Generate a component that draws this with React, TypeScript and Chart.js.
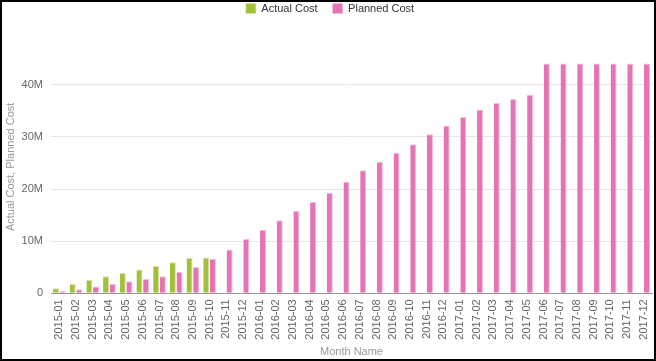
import React, { useEffect, useRef } from "react";
import { Chart, registerables } from "chart.js";

Chart.register(...registerables);

const categories = [
  "2015-01", "2015-02", "2015-03", "2015-04", "2015-05", "2015-06",
  "2015-07", "2015-08", "2015-09", "2015-10", "2015-11", "2015-12",
  "2016-01", "2016-02", "2016-03", "2016-04", "2016-05", "2016-06",
  "2016-07", "2016-08", "2016-09", "2016-10", "2016-11", "2016-12",
  "2017-01", "2017-02", "2017-03", "2017-04", "2017-05", "2017-06",
  "2017-07", "2017-08", "2017-09", "2017-10", "2017-11", "2017-12",
];

const actualCost = [
  950000, 1800000, 2550000, 3250000, 3900000, 4550000,
  5250000, 5950000, 6750000, 6850000, null, null,
  null, null, null, null, null, null,
  null, null, null, null, null, null,
  null, null, null, null, null, null,
  null, null, null, null, null, null,
];

const plannedCost = [
  450000, 800000, 1300000, 1800000, 2300000, 2750000,
  3250000, 4100000, 5050000, 6650000, 8400000, 10400000,
  12200000, 14000000, 15800000, 17500000, 19300000, 21400000,
  23600000, 25250000, 26900000, 28600000, 30500000, 32200000,
  33800000, 35250000, 36500000, 37300000, 38100000, 44100000,
  44100000, 44100000, 44100000, 44100000, 44100000, 44100000,
];

const yTickValues = [0, 10000000, 20000000, 30000000, 40000000];

const FONT = "'Liberation Sans', Arial, sans-serif";

const legendSpacer = {
  id: "legendSpacer",
  beforeInit(chart: any) {
    const legend = chart.legend;
    if (!legend) return;
    const origFit = legend.fit;
    legend.fit = function () {
      origFit.call(this);
      this.height += 16.5;
    };
  },
};

export default function App() {
  const ref = useRef<HTMLCanvasElement | null>(null);

  useEffect(() => {
    document.body.style.margin = "0";
    const ctx = ref.current;
    if (!ctx) return;
    const chart = new Chart(ctx, {
      type: "bar",
      data: {
        labels: categories,
        datasets: [
          {
            label: "Actual Cost",
            data: actualCost,
            backgroundColor: "#a3c03b",
            borderColor: "#d2e2a2",
            borderWidth: { top: 1, right: 1, left: 0, bottom: 0 },
            borderSkipped: "bottom",
          },
          {
            label: "Planned Cost",
            data: plannedCost,
            backgroundColor: "#e474b4",
            borderColor: "#f4bcdc",
            borderWidth: { top: 1, right: 1, left: 0, bottom: 0 },
            borderSkipped: "bottom",
          },
        ],
      },
      plugins: [legendSpacer],
      options: {
        animation: false,
        responsive: true,
        maintainAspectRatio: false,
        layout: { padding: { top: -14, left: 6, right: 2, bottom: 0 } },
        datasets: {
          bar: { categoryPercentage: 0.8, barPercentage: 0.9 },
        },
        plugins: {
          legend: {
            position: "top",
            labels: {
              boxWidth: 10,
              boxHeight: 10,
              padding: 15,
              color: "#333333",
              font: { family: FONT, size: 11 },
            },
          },
          tooltip: { enabled: false },
        },
        scales: {
          x: {
            grid: { display: false, drawTicks: false },
            border: { display: true, color: "#999999", width: 1 },
            afterFit: (axis: any) => {
              axis.paddingLeft = 0;
              axis.paddingRight = 0;
              axis.height = 65.7;
            },
            ticks: {
              color: "#666666",
              font: { family: FONT, size: 11 },
              maxRotation: 90,
              minRotation: 90,
              autoSkip: false,
              padding: 6,
            },
            title: {
              display: true,
              text: "Month Name",
              color: "#999999",
              font: { family: FONT, size: 11 },
              padding: { top: 6, bottom: 0 },
            },
          },
          y: {
            min: 0,
            max: 48500000,
            grid: { color: "#e6e6e6", drawTicks: false },
            border: { display: false },
            afterBuildTicks: (axis: any) => {
              axis.ticks = yTickValues.map((v) => ({ value: v }));
            },
            afterFit: (axis: any) => {
              axis.width = 43;
            },
            ticks: {
              color: "#666666",
              font: { family: FONT, size: 11 },
              padding: 8,
              callback: (v: any) => (Number(v) === 0 ? "0" : Number(v) / 1000000 + "M"),
            },
            title: {
              display: true,
              text: "Actual Cost, Planned Cost",
              color: "#999999",
              font: { family: FONT, size: 11 },
              padding: { top: -4, bottom: 0 },
            },
          },
        },
      },
    });
    return () => chart.destroy();
  }, []);

  return (
    <div
      style={{
        position: "absolute",
        left: 0,
        top: 0,
        width: 656,
        height: 361,
        border: "2px solid #000",
        boxSizing: "border-box",
        background: "#fff",
      }}
    >
      <div style={{ position: "relative", width: 652, height: 357 }}>
        <canvas ref={ref} />
      </div>
    </div>
  );
}
